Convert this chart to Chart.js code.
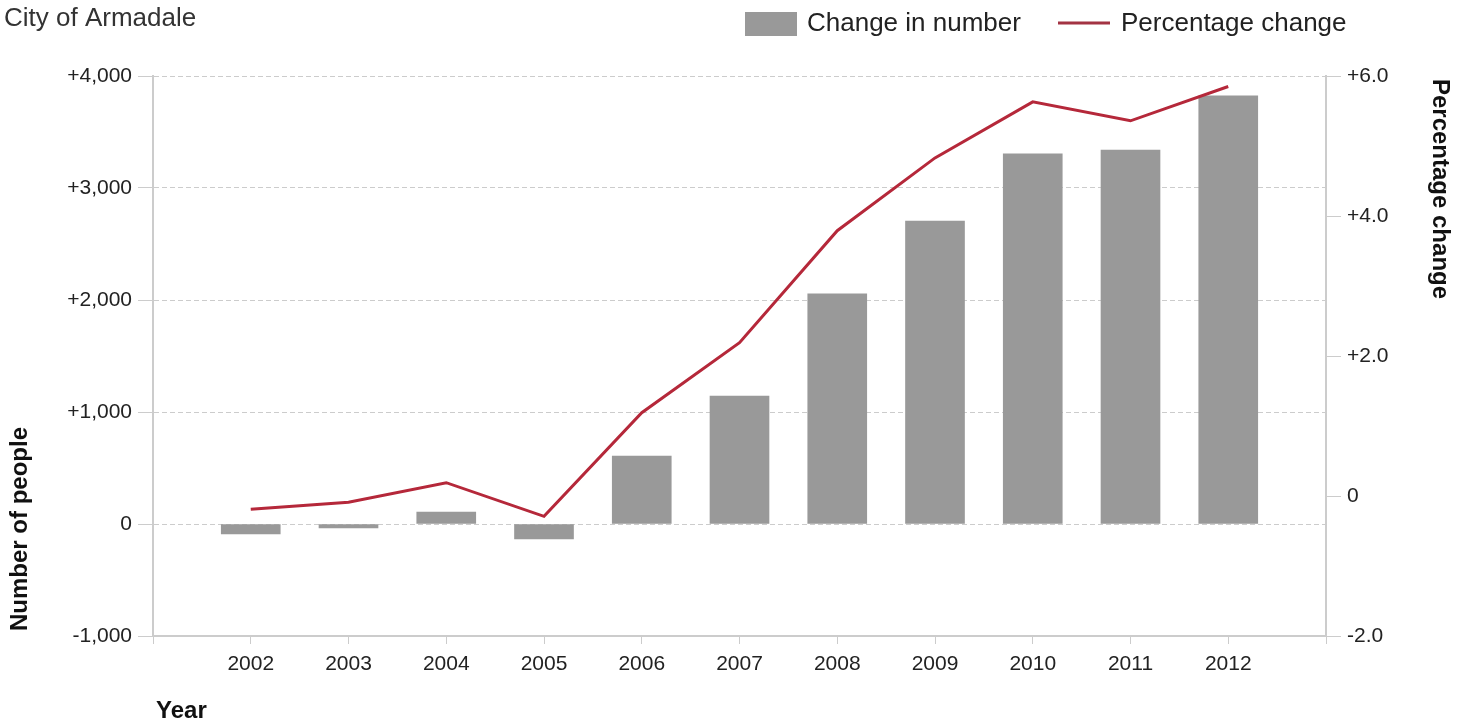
<!DOCTYPE html>
<html>
<head>
<meta charset="utf-8">
<title>City of Armadale</title>
<script src="https://cdn.jsdelivr.net/npm/chart.js@4/dist/chart.umd.min.js"></script>
<style>
  html, body { margin: 0; padding: 0; background: #fff; }
  #wrap { width: 1467px; height: 724px; }
</style>
</head>
<body>
<div id="wrap"><canvas id="chart" width="1467" height="724"></canvas></div>
<script>
const years = ['2002', '2003', '2004', '2005', '2006', '2007', '2008', '2009', '2010', '2011', '2012'];
const changeInNumber = [-89, -36, 107, -134, 606, 1143, 2054, 2705, 3304, 3339, 3823];
const percentageChange = [-0.19, -0.09, 0.19, -0.29, 1.19, 2.19, 3.79, 4.83, 5.63, 5.36, 5.85];
const leftTicks = [-1000, 0, 1000, 2000, 3000, 4000];
const rightTicks = [-2, 0, 2, 4, 6];

// empty slot at each end, the axis runs half a year past the first and last bar
const labels = ['', ...years, ''];
const pad = arr => [null, ...arr, null];

const FONT = '"Liberation Sans", Arial, sans-serif';
const GREY = '#999999';
const RED = '#b5283a';
const TEXT = '#222';

const fmtLeft = v => v === 0 ? '0' : (v > 0 ? '+' : '-') + Math.abs(v).toLocaleString('en-US');
const fmtRight = v => v === 0 ? '0' : (v > 0 ? '+' : '-') + Math.abs(v).toFixed(1);

// title, legend and axis titles sit in odd places, so draw them by hand
const extras = {
  id: 'extras',
  afterDraw(chart) {
    const ctx = chart.ctx;
    const ds = chart.data.datasets;
    ctx.save();
    ctx.fillStyle = '#333';
    ctx.textBaseline = 'middle';
    ctx.textAlign = 'left';
    ctx.font = '26px ' + FONT;
    ctx.fillText('City of Armadale', 4, 19);

    // legend
    ctx.fillStyle = ds[0].backgroundColor;
    ctx.fillRect(745, 12, 52, 24);
    ctx.strokeStyle = '#a33343';
    ctx.lineWidth = 3;
    ctx.beginPath();
    ctx.moveTo(1058, 23);
    ctx.lineTo(1110, 23);
    ctx.stroke();
    ctx.fillStyle = TEXT;
    ctx.fillText(ds[0].label, 807, 24);
    ctx.fillText(ds[1].label, 1121, 24);

    // axis titles
    ctx.font = 'bold 24px ' + FONT;
    ctx.fillStyle = '#111';
    ctx.fillText('Year', 156, 711);

    ctx.save();
    ctx.translate(20, 529);
    ctx.rotate(-Math.PI / 2);
    ctx.textAlign = 'center';
    ctx.fillText('Number of people', 0, 0);
    ctx.restore();

    ctx.save();
    ctx.translate(1440, 189);
    ctx.rotate(Math.PI / 2);
    ctx.textAlign = 'center';
    ctx.fillText('Percentage change', 0, 0);
    ctx.restore();

    ctx.restore();
  }
};

new Chart(document.getElementById('chart'), {
  type: 'bar',
  data: {
    labels: labels,
    datasets: [
      {
        label: 'Change in number',
        data: pad(changeInNumber),
        yAxisID: 'people',
        backgroundColor: GREY,
        borderWidth: 0,
        barThickness: 59,
        order: 2
      },
      {
        type: 'line',
        label: 'Percentage change',
        data: pad(percentageChange),
        yAxisID: 'pct',
        borderColor: RED,
        backgroundColor: RED,
        borderWidth: 3,
        pointRadius: 0,
        tension: 0,
        order: 1
      }
    ]
  },
  options: {
    responsive: false,
    animation: false,
    layout: { padding: { top: 76, left: 0, right: 0, bottom: 0 } },
    plugins: {
      legend: { display: false },
      title: { display: false },
      tooltip: { enabled: false }
    },
    scales: {
      x: {
        offset: false,
        afterFit: s => { s.height = 88; },
        grid: { offset: false, drawOnChartArea: false, drawTicks: true, tickLength: 8, color: '#cccccc' },
        border: { color: '#cccccc', width: 2 },
        ticks: { color: TEXT, padding: 8, font: { family: FONT, size: 21 }, autoSkip: false, maxRotation: 0 }
      },
      people: {
        type: 'linear',
        position: 'left',
        min: leftTicks[0],
        max: leftTicks[leftTicks.length - 1],
        afterFit: s => { s.width = 153; },
        afterBuildTicks: s => { s.ticks = leftTicks.map(v => ({ value: v })); },
        grid: { color: '#cccccc', lineWidth: 1, tickLength: 15, tickBorderDash: [] },
        border: { color: '#cccccc', width: 2, dash: [5, 3] },
        ticks: { color: TEXT, padding: 6, font: { family: FONT, size: 21 }, callback: v => fmtLeft(v) }
      },
      pct: {
        type: 'linear',
        position: 'right',
        min: rightTicks[0],
        max: rightTicks[rightTicks.length - 1],
        afterFit: s => { s.width = 141; },
        afterBuildTicks: s => { s.ticks = rightTicks.map(v => ({ value: v })); },
        grid: { drawOnChartArea: false, drawTicks: true, tickLength: 15, color: '#cccccc' },
        border: { color: '#cccccc', width: 2 },
        ticks: { color: TEXT, padding: 6, font: { family: FONT, size: 21 }, callback: v => fmtRight(v) }
      }
    }
  },
  plugins: [extras]
});
</script>
</body>
</html>
